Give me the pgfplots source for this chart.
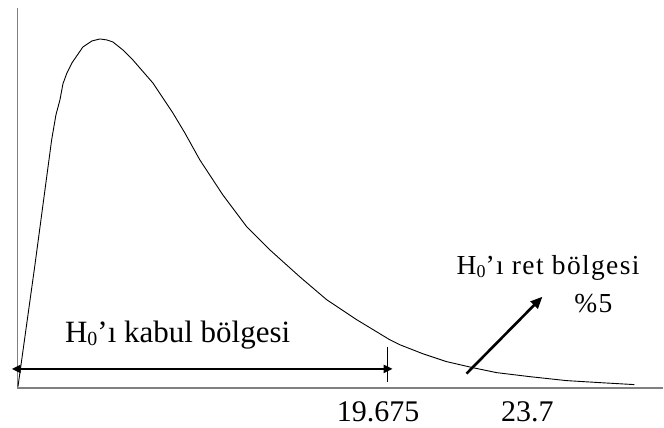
\documentclass[border=0pt]{standalone}
\usepackage{fontspec}
\setmainfont{Liberation Serif}
\usepackage{pgfplots}
\pgfplotsset{compat=1.18}
\usetikzlibrary{arrows.meta}
\definecolor{axgray}{RGB}{128,128,128}
\begin{document}
\begin{tikzpicture}
\begin{axis}[
  width=664bp, height=428bp, scale only axis,
  xmin=0, xmax=664, ymin=0, ymax=428, y dir=reverse,
  hide axis, clip=false]
% invisible frame to fix bounding box
\addplot[draw=none] coordinates {(0,0) (664,428)};
% axes
\addplot[axgray, line width=1.4bp] coordinates {(17.3,8) (17.3,388.3)};
\addplot[axgray, line width=1.4bp] coordinates {(17.3,388.3) (664,388.3)};
% density curve
\addplot[black, line width=0.9bp] coordinates {
(18,387) (35,265) (51.7,140) (56,115) (60,100) (63,84) (67,73) (72,63)
(83,47) (92,41) (100,39) (107,40) (113,42) (123,50) (133,60) (153,83)
(173,113) (185,133) (200,160) (223,195) (247,227) (270,250) (300,277)
(327,300) (357,320) (390,340) (400,345) (423,354) (447,362) (473,368)
(497,373) (530,377) (567,381) (600,383) (635,385)};
% acceptance region double arrow
\addplot[black, line width=2.6bp, {Triangle[length=9bp,width=8bp]}-{Triangle[length=9bp,width=8bp]}]
  coordinates {(11.7,369.3) (393,369.3)};
% critical value tick
\addplot[black, line width=1.2bp] coordinates {(388,347) (388,382)};
% rejection region arrow
\addplot[black, line width=2.6bp, -{Triangle[length=12bp,width=10bp]}]
  coordinates {(467,374) (543,297)};
% texts
\node[anchor=base west, inner sep=0pt, font=\fontsize{31bp}{36bp}\selectfont]
  at (axis cs:65,342.7) {H\raisebox{-3bp}{\fontsize{20bp}{20bp}\selectfont 0}’ı kabul bölgesi};
\node[anchor=base west, inner sep=0pt, font=\fontsize{27.5bp}{32bp}\selectfont\addfontfeature{LetterSpace=5}]
  at (axis cs:457,275) {H\raisebox{-3bp}{\fontsize{18bp}{18bp}\selectfont 0}’ı ret bölgesi};
\node[anchor=base, inner sep=0pt, font=\fontsize{27.5bp}{32bp}\selectfont\addfontfeature{LetterSpace=5}]
  at (axis cs:594,313) {\%5};
\node[anchor=base east, inner sep=0pt, font=\fontsize{30bp}{34bp}\selectfont]
  at (axis cs:420,422) {19.675};
\node[anchor=base, inner sep=0pt, font=\fontsize{30bp}{34bp}\selectfont]
  at (axis cs:528,422) {23.7};
\end{axis}
\end{tikzpicture}
\end{document}
